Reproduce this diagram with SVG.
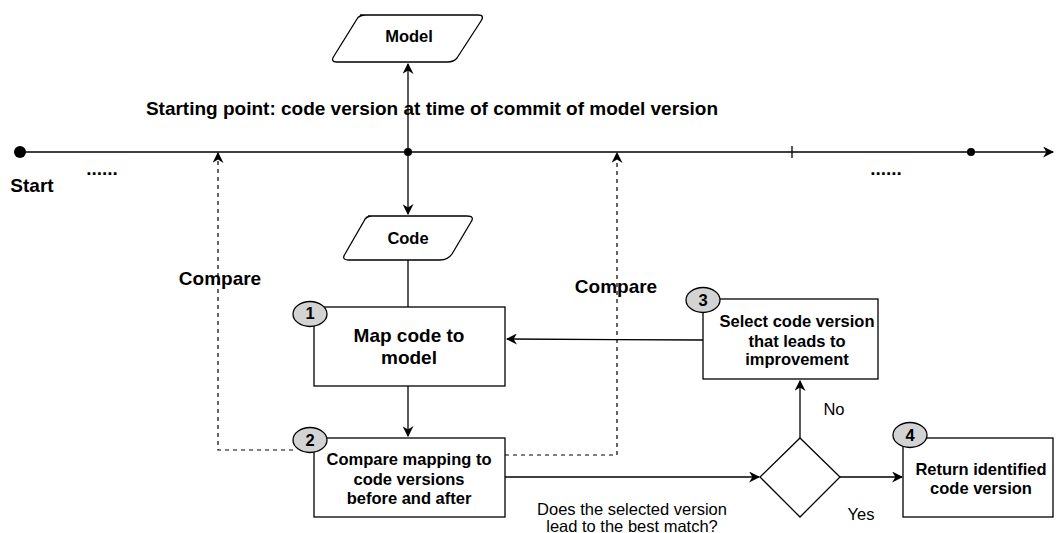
<svg xmlns="http://www.w3.org/2000/svg" width="1056" height="533" viewBox="0 0 1056 533">
<style>
text{font-family:"Liberation Sans",Arial,sans-serif;fill:#000;text-anchor:middle}
.b{font-weight:bold}
.L{font-size:19px}
.M{font-size:16.5px}
.box{fill:#fff;stroke:#000;stroke-width:1.3}
.num{fill:#d3d3d3;stroke:#000;stroke-width:1.3}
.ln{fill:none;stroke:#000;stroke-width:1.3}
.dash{fill:none;stroke:#000;stroke-width:1.2;stroke-dasharray:4 4}
</style>
<defs>
<marker id="ah" viewBox="0 0 10 10" refX="9" refY="5" markerWidth="11" markerHeight="11" markerUnits="userSpaceOnUse" orient="auto"><path d="M0,0 L10,5 L0,10 L3,5 Z" fill="#000"/></marker>
</defs>
<rect width="1056" height="533" fill="#fff"/>
<g id="connectors">
<line class="ln" x1="20" y1="152" x2="1053" y2="152" marker-end="url(#ah)"/>
<line class="ln" x1="792" y1="146" x2="792" y2="158"/>
<line class="ln" x1="408" y1="152" x2="408" y2="64" marker-end="url(#ah)"/>
<line class="ln" x1="408" y1="152" x2="408" y2="214" marker-end="url(#ah)"/>
<line class="ln" x1="408" y1="260" x2="408" y2="307"/>
<line class="ln" x1="408" y1="386" x2="408" y2="436" marker-end="url(#ah)"/>
<path class="dash" d="M293,450 H218 V153" marker-end="url(#ah)"/>
<path class="dash" d="M505,455 H617 V153" marker-end="url(#ah)"/>
<path class="ln" d="M703,340 C620,340 600,339 507,339" marker-end="url(#ah)"/>
<line class="ln" x1="505" y1="477" x2="759" y2="477" marker-end="url(#ah)"/>
<line class="ln" x1="800" y1="438" x2="800" y2="381" marker-end="url(#ah)"/>
<line class="ln" x1="840" y1="477" x2="902" y2="477" marker-end="url(#ah)"/>
</g>
<g id="timeline">
<circle cx="20" cy="152" r="6" fill="#000"/>
<circle cx="408" cy="152" r="4" fill="#000"/>
<circle cx="971" cy="152" r="4" fill="#000"/>
<text x="32" y="192" class="b L">Start</text>
<text x="102" y="175" class="b L">......</text>
<text x="886" y="175" class="b L">......</text>
<text x="432" y="115" class="b L">Starting point: code version at time of commit of model version</text>
<text x="220" y="285" class="b L">Compare</text>
<text x="616" y="293" class="b L">Compare</text>
</g>
<g id="model">
<path class="box" d="M360,15 H478 Q485,15 481,21 L457,58 Q454,62 447,62 H337 Q330,62 334,56 L357,19 Q359,15 366,15 Z"/>
<text x="409" y="42" class="b M">Model</text>
</g>
<g id="code">
<path class="box" d="M368,216 H467 Q475,216 471,222 L452,254 Q448,260 440,260 H349 Q341,260 345,254 L364,221 Q366,216 372,216 Z"/>
<text x="408" y="244" class="b M">Code</text>
</g>
<g id="step1">
<rect class="box" x="314" y="307" width="191" height="79"/>
<ellipse class="num" cx="310" cy="314" rx="17" ry="12.5"/>
<text x="310" y="319" class="b M">1</text>
<text x="409" y="342" class="b L">Map code to</text>
<text x="409" y="364" class="b L">model</text>
</g>
<g id="step2">
<rect class="box" x="314" y="438" width="191" height="79"/>
<ellipse class="num" cx="310" cy="440" rx="17" ry="12.5"/>
<text x="310" y="446" class="b M">2</text>
<text x="409" y="465" class="b M">Compare mapping to</text>
<text x="409" y="485" class="b M">code versions</text>
<text x="409" y="504" class="b M">before and after</text>
</g>
<g id="step3">
<rect class="box" x="703" y="299" width="175" height="80"/>
<ellipse class="num" cx="703" cy="300" rx="17" ry="12.5"/>
<text x="703" y="306" class="b M">3</text>
<text x="797" y="327" class="b M">Select code version</text>
<text x="797" y="347" class="b M">that leads to</text>
<text x="797" y="365" class="b M">improvement</text>
</g>
<g id="decision">
<path class="box" d="M800,438 L840,477 L800,517 L760,477 Z"/>
<text x="834" y="415" class="M">No</text>
<text x="861" y="520" class="M">Yes</text>
<text x="632" y="515" class="M">Does the selected version</text>
<text x="632" y="532" class="M">lead to the best match?</text>
</g>
<g id="step4">
<rect class="box" x="903" y="438" width="150" height="79"/>
<ellipse class="num" cx="910" cy="435" rx="17" ry="12.5"/>
<text x="910" y="441" class="b M">4</text>
<text x="981" y="475" class="b M">Return identified</text>
<text x="981" y="494" class="b M">code version</text>
</g>
</svg>
